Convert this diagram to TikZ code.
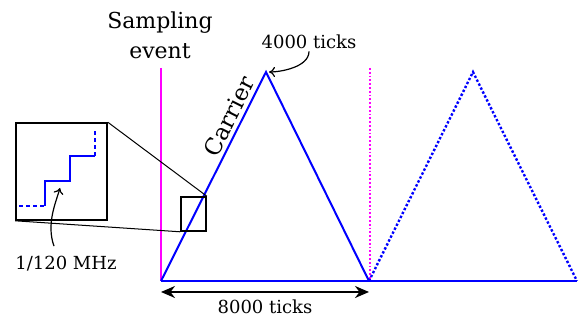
\documentclass[tikz,border=0pt]{standalone}
\usepackage{fontspec}
\setmainfont{DejaVu Serif}
\usepackage{tikz}
\usetikzlibrary{arrows.meta,calc}
\definecolor{car}{HTML}{0000FF}
\definecolor{samp}{HTML}{FF00FF}
\tikzset{
  wave/.style={car,line width=1pt},
  ghost/.style={car,line width=1.2pt,densely dotted},
  sample/.style={samp,line width=0.9pt},
  lbl/.style={inner sep=1pt,align=center},
  frame/.style={draw,line width=0.8pt,inner sep=0pt},
  zoomline/.style={black,line width=0.5pt},
  pointer/.style={-{To[length=3pt,width=5pt]},line width=0.6pt},
  span/.style={{Stealth[length=7pt,width=6pt]}-{Stealth[length=7pt,width=6pt]},line width=1pt},
}

\begin{document}
\begin{tikzpicture}[x=0.5pt,y=-0.5pt]
\useasboundingbox (0,0) rectangle (580,320);
% carrier corners
\coordinate (s0) at (161,281);
\coordinate (p1) at (266,72);
\coordinate (s1) at (369,281);
\coordinate (p2) at (473,72);
\coordinate (s2) at (577,281);
\coordinate (e0) at (161,68);
\coordinate (e1) at (370,68);
% sampling events
\draw[sample] (e0) -- (s0);
\draw[sample,densely dotted] (e1) -- (e1 |- s1);
% carrier
\draw[wave] (s0) -- (s2);
\draw[wave] (s0) -- (p1) -- (s1);
\draw[ghost] (s1) -- (p2) -- (s2);
\path (s0) -- (p1) node[pos=0.76,above,sloped,inner sep=2pt,font=\fontsize{11.5}{13}\selectfont] (carrier) {Carrier};
% zoom window
\node[frame,minimum width=12.5pt,minimum height=17pt] (win) at (193.5,214) {};
\node[frame,minimum width=45.5pt,minimum height=48.5pt] (zoom) at (61.5,171.5) {};
\draw[zoomline] (zoom.north east) -- (win.north east);
\draw[zoomline] (zoom.south west) -- (win.south west);
\draw[wave,dash pattern=on 2pt off 1.5pt] (19,206) -- (45,206);
\draw[wave] (45,206) -- (45,181) -- (70,181) -- (70,156) -- (95,156);
\draw[wave,dash pattern=on 2pt off 1.5pt] (95,156) -- (95,131);
\coordinate (riser) at (60,188);
% labels
\node[lbl,font=\fontsize{11}{15}\selectfont] (event) at (160,35) {Sampling\\event};
\node[lbl,font=\fontsize{9}{11}\selectfont] (ticks) at (309,42) {4000 ticks};
\node[lbl,font=\fontsize{9}{11}\selectfont] (freq) at (66,264) {1/120 MHz};
\coordinate (a0) at (161,292);
\coordinate (a1) at (369,292);
\node[lbl,font=\fontsize{9}{11}\selectfont] (period) at (265,307) {8000 ticks};
% pointers
\draw[pointer,shorten >=1.5pt] (ticks.south) .. controls +(0,16) and +(14,0) .. (p1);
\draw[pointer] ([xshift=-6pt,yshift=4pt]freq.north) .. controls +(-8,-22) and +(-4,14) .. (riser);
\draw[span] (a0) -- (a1);
\end{tikzpicture}
\end{document}
